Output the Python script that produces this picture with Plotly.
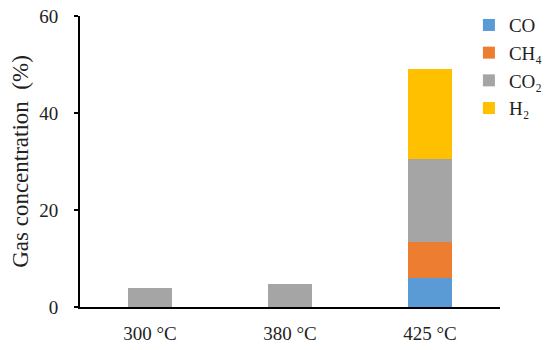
import plotly.graph_objects as go

# Gas composition at each temperature (%)
TEMPS = ["300 °C", "380 °C", "425 °C"]
CO = [0, 0, 6.0]
CH4 = [0, 0, 7.5]
CO2 = [3.9, 4.8, 17.0]
H2 = [0, 0, 18.6]

SERIES = [
    ("CO", CO, "#5B9BD5"),
    ("CH₄", CH4, "#ED7D31"),
    ("CO₂", CO2, "#A5A5A5"),
    ("H₂", H2, "#FFC000"),
]

_FONT = "'Liberation Serif', 'Times New Roman', serif"

fig = go.Figure()
for name, vals, color in SERIES:
    fig.add_trace(go.Bar(
        x=TEMPS, y=vals, name=name,
        marker_color=color, marker_line_width=0,
        width=0.31,
    ))

# page body adds an 8px margin, so the figure is 8px smaller on each axis
fig.update_layout(
    barmode="stack",
    width=542, height=342,
    paper_bgcolor="white", plot_bgcolor="white",
    font=dict(family=_FONT, size=19, color="#222"),
    margin=dict(l=72, r=50, t=8, b=43, autoexpand=False),
    showlegend=True,
    legend=dict(
        x=0.926, y=1.034, xanchor="left", yanchor="top",
        traceorder="normal", bgcolor="rgba(0,0,0,0)",
        font=dict(family=_FONT, size=19, color="#222"),
        itemwidth=30, tracegroupgap=0,
    ),
    xaxis=dict(
        automargin=False,
        showline=True, linecolor="black", linewidth=2,
        showgrid=False, ticks="", zeroline=False,
        ticklabelstandoff=8,
    ),
    yaxis=dict(
        automargin=False,
        range=[0, 60], dtick=20,
        showline=True, linecolor="black", linewidth=2,
        ticks="outside", ticklen=4, tickwidth=2, tickcolor="black",
        ticklabelstandoff=12, ticklabeloverflow="allow",
        showgrid=False, zeroline=False,
        title=dict(text="Gas concentration  (%)", standoff=6),
    ),
)

fig.write_html("out.html")
